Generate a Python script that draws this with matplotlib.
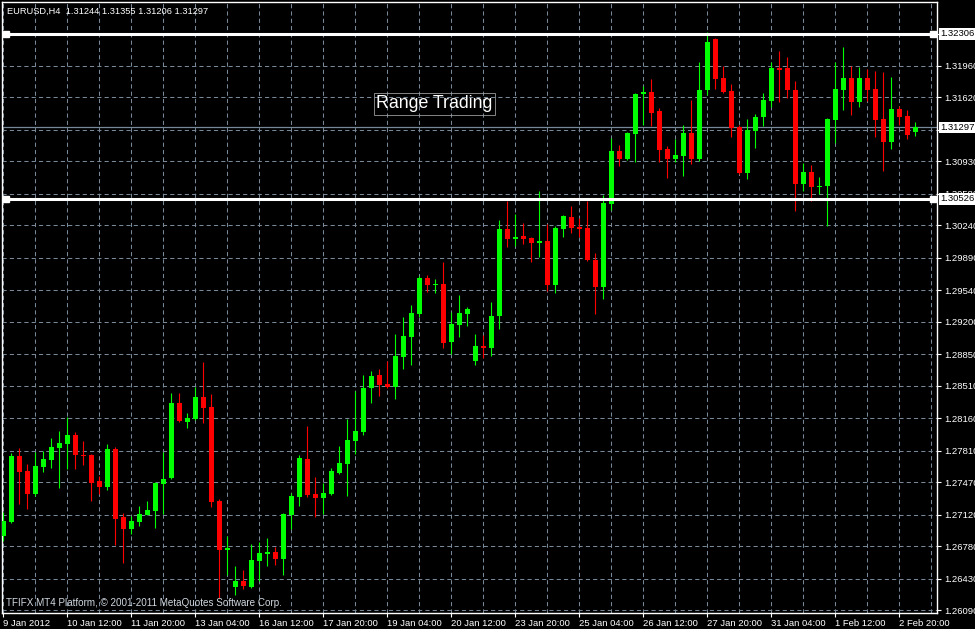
import numpy as np
import matplotlib
matplotlib.use("Agg")
import matplotlib.pyplot as plt

#データ準備 (EURUSD H4 ローソク足)
opens = [1.2689, 1.2704, 1.2775, 1.2759, 1.2734, 1.2763, 1.2771, 1.2784, 1.2788, 1.2798,
         1.2776, 1.2776, 1.2748, 1.2742, 1.2783, 1.2709, 1.2696, 1.2704, 1.2711, 1.2716,
         1.2745, 1.2751, 1.2832, 1.2812, 1.2815, 1.2839, 1.2828, 1.2727, 1.2674, 1.2634,
         1.2640, 1.2634, 1.2662, 1.2669, 1.2672, 1.2664, 1.2711, 1.2731, 1.2772, 1.2734,
         1.2730, 1.2734, 1.2757, 1.2767, 1.2791, 1.2801, 1.2849, 1.2863, 1.2853, 1.2850,
         1.2882, 1.2904, 1.2928, 1.2967, 1.2960, 1.2961, 1.2898, 1.2917, 1.2928, 1.2878,
         1.2894, 1.2892, 1.2926, 1.3020, 1.3009, 1.3013, 1.3010, 1.3005, 1.3007, 1.2960,
         1.3020, 1.3033, 1.3022, 1.3021, 1.2987, 1.2958, 1.3047, 1.3104, 1.3096, 1.3123,
         1.3166, 1.3168, 1.3147, 1.3106, 1.3096, 1.3099, 1.3124, 1.3096, 1.3170, 1.3225,
         1.3183, 1.3169, 1.3130, 1.3080, 1.3126, 1.3141, 1.3158, 1.3194, 1.3194, 1.3170,
         1.3069, 1.3082, 1.3065, 1.3066, 1.3138, 1.3170, 1.3183, 1.3157, 1.3183, 1.3171,
         1.3139, 1.3114, 1.3150, 1.3142, 1.31244]
highs = [1.2715, 1.2778, 1.2784, 1.2767, 1.2779, 1.2781, 1.2795, 1.2802, 1.2817, 1.2801,
         1.2791, 1.2777, 1.2754, 1.2788, 1.2785, 1.2714, 1.2710, 1.2721, 1.2727, 1.2747,
         1.2779, 1.2843, 1.2843, 1.2822, 1.2850, 1.2877, 1.2842, 1.2729, 1.2689, 1.2656,
         1.2652, 1.2680, 1.2682, 1.2687, 1.2677, 1.2714, 1.2735, 1.2776, 1.2808, 1.2753,
         1.2746, 1.2762, 1.2786, 1.2815, 1.2845, 1.2863, 1.2867, 1.2869, 1.2878, 1.2907,
         1.2925, 1.2938, 1.2969, 1.2970, 1.2966, 1.2984, 1.2931, 1.2949, 1.2936, 1.2907,
         1.2906, 1.2941, 1.3030, 1.3050, 1.3036, 1.3027, 1.3011, 1.3061, 1.3025, 1.3023,
         1.3035, 1.3045, 1.3032, 1.3050, 1.2994, 1.3057, 1.3118, 1.3111, 1.3125, 1.3167,
         1.3174, 1.3182, 1.3151, 1.3110, 1.3117, 1.3132, 1.3159, 1.3200, 1.3233, 1.3226,
         1.3196, 1.3177, 1.3132, 1.3139, 1.3144, 1.3167, 1.3200, 1.3212, 1.3206, 1.3180,
         1.3091, 1.3089, 1.3076, 1.3140, 1.3200, 1.3216, 1.3196, 1.3195, 1.3193, 1.3191,
         1.3190, 1.3184, 1.3153, 1.3148, 1.31355]
lows = [1.2683, 1.2703, 1.2723, 1.2718, 1.2732, 1.2758, 1.2762, 1.2741, 1.2761, 1.2761,
        1.2765, 1.2727, 1.2734, 1.2738, 1.2679, 1.2660, 1.2691, 1.2700, 1.2711, 1.2697,
        1.2713, 1.2750, 1.2812, 1.2805, 1.2814, 1.2811, 1.2720, 1.2622, 1.2647, 1.2625,
        1.2632, 1.2633, 1.2640, 1.2656, 1.2658, 1.2647, 1.2696, 1.2721, 1.2731, 1.2709,
        1.2713, 1.2733, 1.2756, 1.2732, 1.2777, 1.2798, 1.2832, 1.2840, 1.2849, 1.2837,
        1.2869, 1.2873, 1.2925, 1.2952, 1.2951, 1.2892, 1.2885, 1.2904, 1.2915, 1.2873,
        1.2881, 1.2883, 1.2912, 1.3001, 1.3002, 1.3004, 1.2984, 1.2990, 1.2953, 1.2951,
        1.3011, 1.3016, 1.3011, 1.2986, 1.2928, 1.2945, 1.3041, 1.3088, 1.3095, 1.3092,
        1.3132, 1.3131, 1.3092, 1.3075, 1.3092, 1.3077, 1.3090, 1.3093, 1.3165, 1.3171,
        1.3167, 1.3119, 1.3079, 1.3074, 1.3108, 1.3131, 1.3152, 1.3157, 1.3161, 1.3040,
        1.3061, 1.3050, 1.3058, 1.3023, 1.3113, 1.3148, 1.3143, 1.3152, 1.3158, 1.3119,
        1.3083, 1.3106, 1.3132, 1.3117, 1.31206]
closes = [1.2705, 1.2775, 1.2758, 1.2734, 1.2764, 1.2772, 1.2785, 1.2789, 1.2798, 1.2776,
          1.2775, 1.2746, 1.2742, 1.2783, 1.2707, 1.2696, 1.2705, 1.2713, 1.2717, 1.2746,
          1.2750, 1.2832, 1.2813, 1.2816, 1.2839, 1.2827, 1.2726, 1.2674, 1.2676, 1.2640,
          1.2635, 1.2663, 1.2670, 1.2672, 1.2664, 1.2713, 1.2732, 1.2773, 1.2733, 1.2730,
          1.2735, 1.2759, 1.2768, 1.2792, 1.2802, 1.2849, 1.2861, 1.2852, 1.2850, 1.2883,
          1.2905, 1.2929, 1.2967, 1.2960, 1.2961, 1.2897, 1.2918, 1.2929, 1.2934, 1.2894,
          1.2892, 1.2926, 1.3020, 1.3009, 1.3011, 1.3009, 1.3005, 1.3007, 1.2960, 1.3021,
          1.3034, 1.3021, 1.3020, 1.2987, 1.2958, 1.3048, 1.3104, 1.3096, 1.3124, 1.3166,
          1.3168, 1.3145, 1.3105, 1.3096, 1.3100, 1.3124, 1.3096, 1.3170, 1.3222, 1.3182,
          1.3168, 1.3129, 1.3080, 1.3127, 1.3141, 1.3159, 1.3194, 1.3192, 1.3170, 1.3069,
          1.3082, 1.3065, 1.3066, 1.3139, 1.3171, 1.3183, 1.3157, 1.3183, 1.3170, 1.3138,
          1.3114, 1.3150, 1.3141, 1.3122, 1.31297]

xlabels = ["9 Jan 2012", "10 Jan 12:00", "11 Jan 20:00", "13 Jan 04:00", "16 Jan 12:00",
           "17 Jan 20:00", "19 Jan 04:00", "20 Jan 12:00", "23 Jan 20:00", "25 Jan 04:00",
           "26 Jan 12:00", "27 Jan 20:00", "31 Jan 04:00", "1 Feb 12:00", "2 Feb 20:00"]
yticks = [1.26090, 1.26430, 1.26780, 1.27120, 1.27470, 1.27810, 1.28160, 1.28510, 1.28850,
          1.29200, 1.29540, 1.29890, 1.30240, 1.30580, 1.30930, 1.31270, 1.31620, 1.31960,
          1.32300]
hidden = [1.31270, 1.32300]  # ラベルの箱で隠れる目盛り
levels = [1.32306, 1.30526]  # 水平線 (レンジ上限/下限)

GREEN = "#00ff00"
RED = "#ff0000"
GRID = "#778899"

plt.rcParams['font.family'] = ['Liberation Sans', 'DejaVu Sans']

fig = plt.figure(figsize=(9.75, 6.29), dpi=100, facecolor="black")
ax = fig.add_axes([2/975, 16/629, 935/975, 611/629])
ax.set_facecolor("black")

o = np.array(opens)
h = np.array(highs)
l = np.array(lows)
c = np.array(closes)
x = np.arange(len(o))
cols = [GREEN if cc > oo else RED for oo, cc in zip(o, c)]

#ローソク足
ax.vlines(x, l, h, colors=cols, lw=0.8, zorder=3)
body = np.maximum(np.abs(c - o), 0.00011)
ax.bar(x, body, bottom=np.minimum(o, c), width=0.62, color=cols, lw=0, zorder=4)

ax.set_xlim(-0.1625, 116.71)
ax.set_ylim(1.26058, 1.32650)

#グリッド
ax.set_xticks(np.arange(0, 113, 8))
ax.set_xticklabels(xlabels, ha="left")
ax.set_xticks(np.arange(4, 117, 8), minor=True)
ax.set_yticks(yticks)
ax.set_yticklabels(["" if v in hidden else "%.5f" % v for v in yticks])
ax.yaxis.tick_right()
ax.grid(True, which="both", color=GRID, lw=0.75, linestyle=(0, (4, 3)), zorder=1)
ax.set_axisbelow(True)
ax.tick_params(axis="x", which="major", colors="white", length=3, width=0.8, pad=1,
               labelsize=6.8)
ax.tick_params(axis="x", which="minor", length=0)
ax.tick_params(axis="y", colors="white", length=3, width=0.8, pad=2, labelsize=6.8)
for s in ax.spines.values():
    s.set_color("white")
    s.set_linewidth(1)

#Bidライン
ax.axhline(c[-1], color=GRID, lw=0.9, zorder=2)

#水平線
tr = ax.get_yaxis_transform()
for lv in levels:
    ax.axhline(lv, color="white", lw=2.2, zorder=5)
    ax.plot([0.004, 0.996], [lv, lv], "s", color="white", ms=4.5, transform=tr,
            clip_on=False, zorder=6)
for lv in levels + [c[-1]]:
    ax.text(1.003, lv, "%.5f" % lv, transform=tr, ha="left", va="center", fontsize=6.8,
            color="black", zorder=10, clip_on=False,
            bbox=dict(boxstyle="square,pad=0.12", fc="white", ec="none"))

ax.text(46.6, 1.3155, "Range Trading", fontsize=12.8, color="white", ha="left",
        va="center", zorder=7,
        bbox=dict(boxstyle="square,pad=0.12", fc="none", ec="#9a9a9a", lw=0.6))

fig.text(7/975, 1 - 11/629, "EURUSD,H4  %.5f %.5f %.5f %.5f" % (o[-1], h[-1], l[-1], c[-1]),
         color="white", fontsize=6.7, va="center", ha="left")
fig.text(6/975, 1 - 603/629, "TFIFX MT4 Platform, © 2001-2011 MetaQuotes Software Corp.",
         color="#d0d8e0", fontsize=7.1, va="center", ha="left")

fig.savefig("out.png", dpi=100, facecolor="black")
